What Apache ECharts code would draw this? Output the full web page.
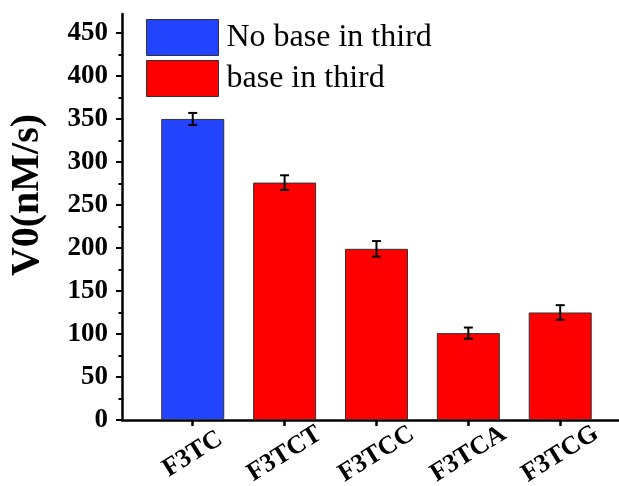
<!DOCTYPE html>
<html>
<head>
    <meta charset="utf-8">
    <title>ECharts</title>
    <script src="https://cdn.jsdelivr.net/npm/echarts@6/dist/echarts.min.js" charset="utf-8"></script>
    <style>
        html, body { margin: 0; padding: 0; background: #fff; }
    </style>
</head>
<body>
<div id="main1" style="width:619px;height:486px;"></div>
<script type="text/javascript">
    // data
    var categories = ['F3TC', 'F3TCT', 'F3TCC', 'F3TCA', 'F3TCG'];
    var values = [350, 276, 199, 101, 125];
    var errors = [7, 8.5, 9, 6.5, 8.5];
    var groupOf = [0, 1, 1, 1, 1];   // 0 = no base in third, 1 = base in third
    var seriesNames = ['No base in third', 'base in third'];
    var seriesColors = ['#2244ff', '#ff0000'];
    var yMajorTicks = [0, 50, 100, 150, 200, 250, 300, 350, 400, 450];
    var yMinorTicks = [25, 75, 125, 175, 225, 275, 325, 375, 425];

    var xPos = categories.map(function (c, i) { return i + 1; });
    var font = '"Liberation Serif", "Times New Roman", serif';

    var barSeries = seriesNames.map(function (name, g) {
        var data = [];
        for (var i = 0; i < values.length; i++) {
            if (groupOf[i] == g) data.push([xPos[i], values[i]]);
        }
        return {
            name: name,
            type: 'bar',
            data: data,
            barWidth: 63,
            barGap: '-100%',
            itemStyle: { color: seriesColors[g], borderColor: '#333', borderWidth: 1 }
        };
    });

    var errData = values.map(function (v, i) {
        return [xPos[i], v - errors[i], v + errors[i]];
    });

    var errSeries = {
        type: 'custom',
        data: errData,
        z: 10,
        renderItem: function (params, api) {
            var x = api.value(0);
            var top = api.coord([x, api.value(2)]);
            var bot = api.coord([x, api.value(1)]);
            var half = 4.5;
            var st = { stroke: '#000', lineWidth: 2 };
            return {
                type: 'group',
                children: [
                    { type: 'line', shape: { x1: top[0], y1: top[1], x2: bot[0], y2: bot[1] }, style: st },
                    { type: 'line', shape: { x1: top[0] - half, y1: top[1], x2: top[0] + half, y2: top[1] }, style: st },
                    { type: 'line', shape: { x1: bot[0] - half, y1: bot[1], x2: bot[0] + half, y2: bot[1] }, style: st }
                ]
            };
        }
    };

    var myChart1 = echarts.init(document.getElementById('main1'));
    var option1 = {
        animation: false,
        backgroundColor: '#fff',
        grid: { left: 122, right: 0, top: 14, bottom: 66, outerBoundsMode: 'none' },
        legend: {
            orient: 'vertical',
            left: 141,
            top: 14,
            itemWidth: 72,
            itemHeight: 36,
            itemGap: 4,
            icon: 'rect',
            data: seriesNames.map(function (n, g) {
                return { name: n, itemStyle: { color: seriesColors[g], borderColor: '#333', borderWidth: 1 } };
            }),
            textStyle: { fontFamily: font, fontSize: 32, color: '#000', padding: [0, 0, 0, 3] }
        },
        xAxis: {
            type: 'value',
            min: 0.23,
            max: 5.64,
            splitLine: { show: false },
            axisLine: { lineStyle: { color: '#000', width: 2.5 } },
            axisTick: { customValues: xPos, length: 6, lineStyle: { color: '#000', width: 2.5 } },
            axisLabel: {
                customValues: xPos,
                rotate: 32,
                align: 'center',
                verticalAlign: 'middle',
                margin: 34,
                fontFamily: font,
                fontWeight: 'bold',
                fontSize: 26,
                color: '#000',
                formatter: function (v) { return categories[Math.round(v) - 1] || ''; }
            }
        },
        yAxis: [
            {
                type: 'value',
                min: 0,
                max: 472,
                name: 'V0(nM/s)',
                nameLocation: 'middle',
                nameRotate: 90,
                nameGap: 74,
                nameTextStyle: {
                    fontFamily: font, fontWeight: 'bold', fontSize: 40, color: '#000',
                    padding: [0, 0, 0, 44]
                },
                splitLine: { show: false },
                axisLine: { show: true, lineStyle: { color: '#000', width: 2.5 } },
                axisTick: { customValues: yMajorTicks, length: 6, lineStyle: { color: '#000', width: 2 } },
                axisLabel: {
                    customValues: yMajorTicks,
                    margin: 14,
                    fontFamily: font,
                    fontWeight: 'bold',
                    fontSize: 27,
                    color: '#000'
                }
            },
            {
                type: 'value',
                min: 0,
                max: 472,
                position: 'left',
                splitLine: { show: false },
                axisLine: { show: false },
                axisTick: { customValues: yMinorTicks, length: 3.5, lineStyle: { color: '#000', width: 2 } },
                axisLabel: { show: false }
            }
        ],
        series: barSeries.concat([errSeries])
    };
    myChart1.setOption(option1);
</script>
</body>
</html>
